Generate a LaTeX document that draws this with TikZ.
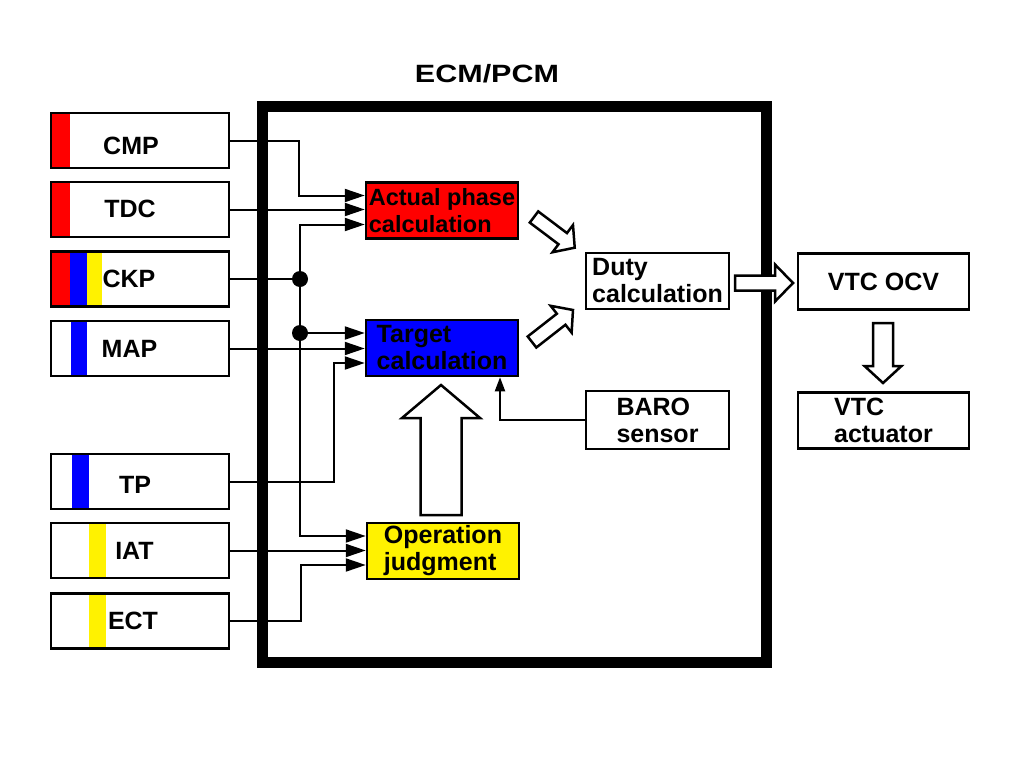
\documentclass[tikz,border=0pt]{standalone}
\usepackage{fontspec}
\setmainfont{Liberation Sans}
\usetikzlibrary{arrows.meta,calc}
\newcommand\stripefill[3]{\fill[#1] ([xshift=#2pt]path picture bounding box.north west) rectangle ([xshift=#3pt]path picture bounding box.south west);}
\newcommand\hollowarrow[7]{\draw[blockarr, shift={(#1,#2)}, rotate=#3] (0,-#5) -- (#4-#7,-#5) -- (#4-#7,-#6) -- (#4,0) -- (#4-#7,#6) -- (#4-#7,#5) -- (0,#5) -- cycle;}
\begin{document}
\begin{tikzpicture}[x=1pt,y=-1pt,
  txt/.style={font=\bfseries\fontsize{25}{27}\selectfont},
  sensor/.style={draw, line width=2.5pt, minimum width=178pt, minimum height=55pt, inner sep=0pt},
  slabel/.style={txt, inner sep=0pt},
  box/.style={draw, line width=2.5pt, minimum width=#1, minimum height=56pt, inner sep=0pt, txt, align=left},
  conn/.style={line width=2pt},
  arr/.style={line width=2pt, -{Triangle[length=20pt,width=13pt]}},
  arrs/.style={line width=2pt, -{Triangle[length=14pt,width=10pt]}},
  blockarr/.style={draw, line width=2.5pt, fill=white, line join=miter},
  dot/.style={circle, fill=black, inner sep=0pt, minimum size=16pt}
]
\fill[white] (0,0) rectangle (1024,768);
\useasboundingbox (0,0) rectangle (1024,768);

% main frame and title
\node[draw, line width=11pt, minimum width=504pt, minimum height=556pt, inner sep=0pt] (ecm) at (514,384) {};
\node[txt, xscale=1.22, inner sep=0pt] (title) at (487,74) {ECM/PCM};

% sensors
\node[sensor, path picture={\stripefill{red}{0}{19}}, label={[slabel, xshift=-9pt, yshift=-5pt]center:CMP}] (cmp) at (140,140.5) {};
\node[sensor, path picture={\stripefill{red}{0}{19}}, label={[slabel, xshift=-10pt, yshift=1pt]center:TDC}] (tdc) at (140,209.5) {};
\node[sensor, path picture={\stripefill{red}{0}{19}\stripefill{blue}{19}{36}\stripefill{yellow}{36}{51}}, label={[slabel, xshift=-11pt]center:CKP}] (ckp) at (140,279) {};
\node[sensor, path picture={\stripefill{blue}{20}{36}}, label={[slabel, xshift=-10.5pt]center:MAP}] (map) at (140,348.5) {};
\node[sensor, path picture={\stripefill{blue}{21}{38}}, label={[slabel, xshift=-5pt, yshift=-3.5pt]center:TP}] (tp) at (140,481.5) {};
\node[sensor, path picture={\stripefill{yellow}{38}{55}}, label={[slabel, xshift=-5.5pt]center:IAT}] (iat) at (140,550.5) {};
\node[sensor, path picture={\stripefill{yellow}{38}{55}}, label={[slabel, xshift=-7pt]center:ECT}] (ect) at (140,621) {};

% inner blocks
\node[box=152pt, fill=red, font=\bfseries\fontsize{23.5}{27}\selectfont] (act) at (442,210.5) {Actual phase\\calculation};
\node[box=152pt, fill=blue] (tgt) at (442,348) {Target\\calculation};
\node[box=152pt, fill=yellow] (opj) at (443,551) {Operation\\judgment};
\node[box=143pt] (duty) at (657.5,281) {Duty\\calculation};
\node[box=143pt, minimum height=58pt] (baro) at (657.5,420) {BARO\\sensor};
\node[box=171pt] (ocv) at (883.5,281.5) {VTC OCV};
\node[box=171pt] (vact) at (883.5,420.5) {VTC\\actuator};

% junction dots
\node[dot] (d1) at (300,279) {};
\node[dot] (d2) at (300,333) {};

% connectors
\draw[arr] (cmp.east) -| ([xshift=-66pt,yshift=15pt]act.west) -- ([yshift=15pt]act.west);
\draw[arr] (tdc.east) -- (tdc.east -| act.west);
\draw[conn] (ckp.east) -- (d1);
\draw[arr] (d1.center) |- ([yshift=-14pt]act.west);
\draw[conn] (d1.center) -- (d2.center);
\draw[arr] (d2.center) -- (d2 -| tgt.west);
\draw[arr] (d2.center) |- ([yshift=15pt]opj.west);
\draw[arr] (map.east) -- (map.east -| tgt.west);
\draw[arr] (tp.east) -| ([xshift=-31pt,yshift=-15pt]tgt.west) -- ([yshift=-15pt]tgt.west);
\draw[arr] (iat.east) -- (iat.east -| opj.west);
\draw[arr] (ect.east) -| ([xshift=-65pt,yshift=-14pt]opj.west) -- ([yshift=-14pt]opj.west);
\draw[arrs] (baro.west) -| ([xshift=58pt]tgt.south);

% hollow block arrows
\hollowarrow{534}{217}{-37}{51}{7}{17}{15}
\hollowarrow{532}{342}{38}{52}{7}{17}{15}
\hollowarrow{735}{283}{0}{58}{7.5}{18.5}{18}
\hollowarrow{883}{323}{-90}{60}{10}{18.5}{17}
\hollowarrow{441}{515}{90}{130}{20.5}{39}{33}
\end{tikzpicture}
\end{document}
